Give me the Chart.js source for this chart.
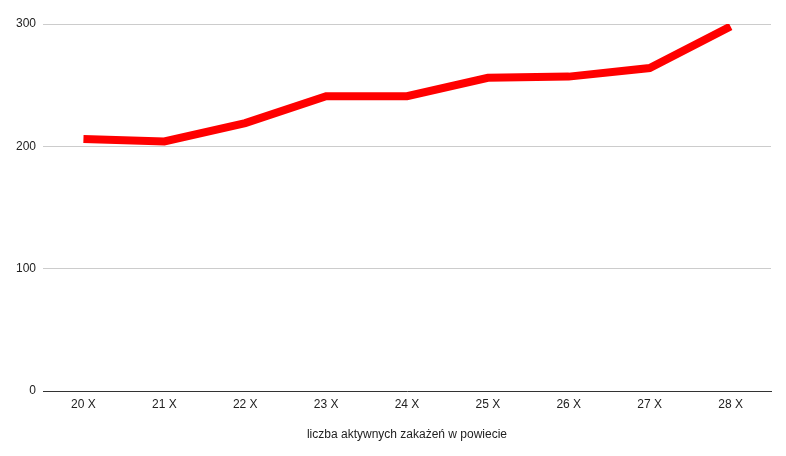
<!DOCTYPE html>
<html><head><meta charset="utf-8">
<script src="https://cdn.jsdelivr.net/npm/chart.js@4"></script>
<style>html,body{margin:0;padding:0;background:#fff}#w{width:786px;height:456px}</style>
</head><body><div id="w"><canvas id="c"></canvas></div>
<script>
const categories = ["20 X","21 X","22 X","23 X","24 X","25 X","26 X","27 X","28 X"];
const values = [206, 204, 219, 241, 241, 256, 257, 264, 298];
const yTicks = [0, 100, 200, 300];
const xTitle = "liczba aktywnych zakażeń w powiecie";

new Chart(document.getElementById('c'), {
  type: 'line',
  data: { labels: categories, datasets: [{ data: values, borderColor: '#ff0000', borderWidth: 8, pointRadius: 0, tension: 0, fill: false, borderJoinStyle: 'miter' }] },
  options: {
    responsive: true, maintainAspectRatio: false, animation: false,
    layout: { padding: { left: 0, right: 15, top: 24, bottom: 14 } },
    plugins: { legend: { display: false }, tooltip: { enabled: false } },
    scales: {
      x: {
        offset: true,
        grid: { display: false, drawTicks: false },
        border: { display: true, color: '#333', width: 1 },
        ticks: { color: '#222', font: { family: 'Liberation Sans, Arial', size: 12 }, padding: 6, maxRotation: 0 },
        title: { display: true, text: xTitle, color: '#222', font: { family: 'Liberation Sans, Arial', size: 12 }, padding: { top: 16, bottom: 0 } },
        afterFit: s => { s.height = 51; }
      },
      y: {
        min: 0, max: 300,
        afterBuildTicks: s => { s.ticks = yTicks.map(v => ({ value: v })); },
        grid: { color: c => c.tick && c.tick.value === 0 ? 'rgba(0,0,0,0)' : '#cccccc', drawTicks: false },
        border: { display: false },
        ticks: { color: '#222', font: { family: 'Liberation Sans, Arial', size: 12 }, padding: 7 },
        afterFit: s => { s.width = 43; }
      }
    }
  }
});
</script></body></html>
